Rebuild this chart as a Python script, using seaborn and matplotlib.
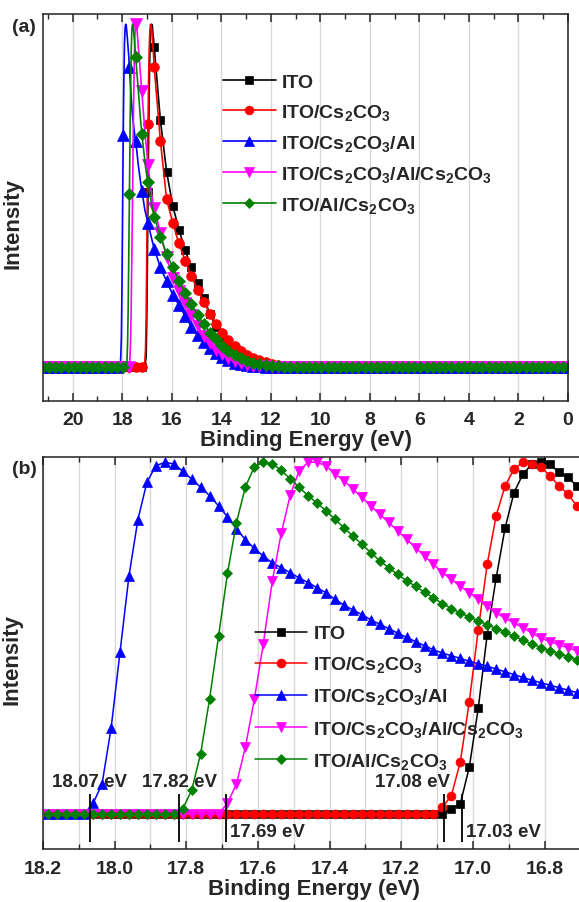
import numpy as np
import matplotlib
matplotlib.use("Agg")
import matplotlib.pyplot as plt
from matplotlib.ticker import MultipleLocator, FormatStrFormatter
import seaborn as sns

# ---------------------------------------------------------------- data
SAMPLES = [
    "ITO",
    "ITO/Cs$_2$CO$_3$",
    "ITO/Cs$_2$CO$_3$/Al",
    "ITO/Cs$_2$CO$_3$/Al/Cs$_2$CO$_3$",
    "ITO/Al/Cs$_2$CO$_3$",
]

# secondary-electron cut-off region, 0.025 eV steps (18.185 -> 16.71 eV)
EDGE_ENERGY = np.linspace(18.185, 16.71, 60)

ITO_EDGE = [
    0, 0, 0, 0, 0, 0, 0, 0, 0, 0, 0, 0, 0, 0, 0,
    0, 0, 0, 0, 0, 0, 0, 0, 0, 0, 0, 0, 0, 0, 0,
    0, 0, 0, 0, 0, 0, 0, 0, 0, 0, 0, 0, 0, 0, 0,
    0.014, 0.029, 0.133, 0.30, 0.51, 0.671, 0.814, 0.914, 0.967, 0.995,
    1.0, 0.995, 0.971, 0.957, 0.933,
]
ITO_CS_EDGE = [
    0, 0, 0, 0, 0, 0, 0, 0, 0, 0, 0, 0, 0, 0, 0,
    0, 0, 0, 0, 0, 0, 0, 0, 0, 0, 0, 0, 0, 0, 0,
    0, 0, 0, 0, 0, 0, 0, 0, 0, 0, 0, 0, 0, 0,
    0.019, 0.052, 0.148, 0.319, 0.524, 0.71, 0.848, 0.933, 0.981, 1.0,
    0.995, 0.986, 0.962, 0.933, 0.91, 0.876,
]
ITO_CS_AL_EDGE = [
    0, 0, 0, 0, 0,
    0.03, 0.086, 0.243, 0.46, 0.677, 0.837, 0.943, 0.99, 1.0, 0.995,
    0.975, 0.952, 0.929, 0.905, 0.876, 0.845, 0.81, 0.78, 0.755, 0.733,
    0.714, 0.70, 0.686, 0.671, 0.658, 0.643, 0.629, 0.61, 0.594, 0.58,
    0.567, 0.552, 0.539, 0.527, 0.514, 0.502, 0.49, 0.478, 0.467, 0.457,
    0.45, 0.442, 0.434, 0.427, 0.42, 0.412, 0.404, 0.396, 0.388, 0.38,
    0.373, 0.366, 0.359, 0.352, 0.345,
]
ITO_CS_AL_CS_EDGE = [
    0, 0, 0, 0, 0, 0, 0, 0, 0, 0, 0, 0, 0, 0, 0, 0, 0, 0, 0, 0,
    0.03, 0.085, 0.19, 0.326, 0.484, 0.662, 0.798, 0.906, 0.976, 1.0,
    1.0, 0.99, 0.967, 0.948, 0.924, 0.90, 0.876, 0.852, 0.829, 0.805,
    0.781, 0.757, 0.733, 0.71, 0.686, 0.667, 0.648, 0.629, 0.61, 0.59,
    0.571, 0.557, 0.543, 0.529, 0.514, 0.50, 0.49, 0.481, 0.472, 0.464,
]
ITO_AL_CS_EDGE = [
    0, 0, 0, 0, 0, 0, 0, 0, 0, 0, 0, 0, 0, 0, 0,
    0.014, 0.067, 0.171, 0.327, 0.505, 0.684, 0.828, 0.93, 0.987, 1.0,
    0.996, 0.977, 0.953, 0.929, 0.905, 0.884, 0.862, 0.838, 0.814, 0.79,
    0.767, 0.743, 0.72, 0.70, 0.681, 0.663, 0.647, 0.63, 0.614, 0.598,
    0.584, 0.571, 0.56, 0.549, 0.538, 0.527, 0.516, 0.505, 0.494, 0.483,
    0.473, 0.464, 0.456, 0.447, 0.438,
]

# survey scan outside the cut-off window, 0.25 eV steps
SURVEY_HIGH_ENERGY = np.linspace(21.21, 18.21, 13)   # flat baseline
SURVEY_TAIL_ENERGY = np.linspace(16.46, 11.21, 22)   # decaying tail
SURVEY_LOW_ENERGY = np.linspace(10.96, -0.04, 45)    # flat baseline

ITO_TAIL = [0.72, 0.57, 0.47, 0.40, 0.34, 0.29, 0.245, 0.20, 0.155, 0.115, 0.085,
            0.062, 0.045, 0.032, 0.022, 0.015, 0.010, 0.006, 0.004, 0.002, 0.001, 0.0]
ITO_CS_TAIL = [0.66, 0.49, 0.42, 0.36, 0.31, 0.265, 0.225, 0.19, 0.155, 0.125, 0.10,
               0.078, 0.06, 0.045, 0.034, 0.026, 0.019, 0.013, 0.008, 0.005, 0.003, 0.001]
ITO_CS_AL_TAIL = [0.29, 0.25, 0.21, 0.18, 0.148, 0.117, 0.092, 0.072, 0.055, 0.04, 0.028,
                  0.019, 0.012, 0.007, 0.004, 0.002, 0.001, 0.0, 0.0, 0.0, 0.0, 0.0]
ITO_CS_AL_CS_TAIL = [0.39, 0.32, 0.26, 0.22, 0.185, 0.15, 0.118, 0.09, 0.068, 0.05, 0.036,
                     0.025, 0.016, 0.01, 0.006, 0.003, 0.002, 0.001, 0.0, 0.0, 0.0, 0.0]
ITO_AL_CS_TAIL = [0.38, 0.33, 0.29, 0.25, 0.215, 0.182, 0.152, 0.125, 0.10, 0.08, 0.062,
                  0.047, 0.035, 0.025, 0.017, 0.011, 0.007, 0.004, 0.002, 0.001, 0.0, 0.0]

EDGES = [ITO_EDGE, ITO_CS_EDGE, ITO_CS_AL_EDGE, ITO_CS_AL_CS_EDGE, ITO_AL_CS_EDGE]
TAILS = [ITO_TAIL, ITO_CS_TAIL, ITO_CS_AL_TAIL, ITO_CS_AL_CS_TAIL, ITO_AL_CS_TAIL]

# cut-off onsets (eV)
ONSETS = [18.07, 17.82, 17.69, 17.08, 17.03]

# ---------------------------------------------------------------- style
COLORS = ["#000000", "#ff0000", "#0000ff", "#ff00ff", "#008000"]
MARKERS = ["s", "o", "^", "v", "D"]
SIZES_A = [6.0, 7.0, 8.0, 8.0, 6.2]
SIZES_B = [5.4, 6.4, 7.2, 7.2, 5.2]
# label placement next to each onset line: (horizontal alignment, row)
ONSET_LABEL_POS = [("center", "up"), ("center", "up"), ("left", "down"),
                   ("right", "up"), ("left", "down")]

sns.set_style("white")
plt.rcParams["font.family"] = ["Liberation Sans", "DejaVu Sans"]
plt.rcParams["font.weight"] = "bold"
plt.rcParams["mathtext.fontset"] = "custom"
plt.rcParams["mathtext.rm"] = "Liberation Sans:bold"
plt.rcParams["mathtext.bf"] = "Liberation Sans:bold"
plt.rcParams["mathtext.it"] = "Liberation Sans:bold"
plt.rcParams["mathtext.default"] = "rm"
plt.rcParams["axes.linewidth"] = 1.1
plt.rcParams["axes.edgecolor"] = "#222222"

fig = plt.figure(figsize=(5.79, 9.03), dpi=100)
ax_a = fig.add_axes([43 / 579, 1 - 402 / 903, 525 / 579, 387 / 903])
ax_b = fig.add_axes([43 / 579, 1 - 850 / 903, 542 / 579, 392 / 903])

n_high = len(SURVEY_HIGH_ENERGY)
n_edge = len(EDGE_ENERGY)
survey_energy = np.concatenate([SURVEY_HIGH_ENERGY, EDGE_ENERGY,
                                SURVEY_TAIL_ENERGY, SURVEY_LOW_ENERGY])
survey_marks = (list(range(n_high))
                + [n_high + i for i in range(9, n_edge, 10)]
                + list(range(n_high + n_edge, len(survey_energy))))

# ---------------------------------------------------------------- (a) survey
for name, edge, tail, col, mk, ms in zip(SAMPLES, EDGES, TAILS, COLORS, MARKERS, SIZES_A):
    inten = np.concatenate([np.zeros(n_high), edge, tail,
                            np.zeros(len(SURVEY_LOW_ENERGY))])
    sns.lineplot(x=survey_energy, y=inten, ax=ax_a, sort=False, estimator=None,
                 color=col, lw=1.2, marker=mk, markersize=ms,
                 markeredgecolor=col, markeredgewidth=0.5, markevery=survey_marks,
                 label=name, legend=False)

ax_a.set_xlim(21.2, 0)
ax_a.set_ylim(-0.1, 1.03)
ax_a.xaxis.set_major_locator(MultipleLocator(2))
ax_a.xaxis.set_minor_locator(MultipleLocator(1))
ax_a.grid(True, axis="x", which="major", color="#d8d8d8", lw=1.0)
ax_a.legend(loc="upper left", bbox_to_anchor=(0.343, 0.847), frameon=False,
            fontsize=14, handlelength=2.7, handletextpad=0.3, labelspacing=0.57,
            borderpad=0, borderaxespad=0, numpoints=1, markerscale=0.9)

# ---------------------------------------------------------------- (b) cut-off
for name, edge, col, mk, ms in zip(SAMPLES, EDGES, COLORS, MARKERS, SIZES_B):
    sns.lineplot(x=EDGE_ENERGY, y=edge, ax=ax_b, sort=False, estimator=None,
                 color=col, lw=1.1, marker=mk, markersize=ms,
                 markeredgecolor=col, markeredgewidth=0.5,
                 label=name, legend=False)

ax_b.vlines(ONSETS, -0.08, 0.057, color="black", lw=1.3, zorder=5)
for e, (ha, row) in zip(ONSETS, ONSET_LABEL_POS):
    dx = {"center": 0, "left": 3, "right": 4}[ha]
    yv = 0.091 if row == "up" else -0.051
    ax_b.annotate(f"{e:.2f} eV", xy=(e, yv), xytext=(dx, 0),
                  textcoords="offset points", ha=ha, va="center",
                  fontsize=13.5, fontweight="bold")

ax_b.set_xlim(18.2, 16.687)
ax_b.set_ylim(-0.1, 1.015)
ax_b.xaxis.set_major_locator(MultipleLocator(0.2))
ax_b.xaxis.set_minor_locator(MultipleLocator(0.1))
ax_b.xaxis.set_major_formatter(FormatStrFormatter("%.1f"))
ax_b.grid(True, axis="x", which="both", color="#d8d8d8", lw=1.0)
ax_b.legend(loc="upper left", bbox_to_anchor=(0.391, 0.572), frameon=False,
            fontsize=14, handlelength=2.7, handletextpad=0.3, labelspacing=0.62,
            borderpad=0, borderaxespad=0, numpoints=1)

# ---------------------------------------------------------------- common axes styling
for ax, ycen, pad, lpad in ((ax_a, 0.4625, 7, 1), (ax_b, 0.485, 8, 0.5)):
    ax.set_axisbelow(True)
    ax.set_yticks([])
    ax.tick_params(axis="x", which="major", direction="in", length=6, width=1.1,
                   top=True, bottom=True, labelsize=14, pad=pad)
    ax.tick_params(axis="x", which="minor", direction="in", length=3.5, width=1.0,
                   top=True, bottom=True)
    for lab in ax.get_xticklabels():
        lab.set_fontweight("bold")
    ax.set_xlabel("Binding Energy (eV)", fontsize=16, fontweight="bold", labelpad=lpad)
    ax.set_ylabel("Intensity", fontsize=16, fontweight="bold")
    ax.yaxis.set_label_coords(-0.038, ycen)

fig.text(12 / 579, 1 - 27 / 903, "(a)", fontsize=14, fontweight="bold",
         ha="left", va="center")
fig.text(12 / 579, 1 - 470 / 903, "(b)", fontsize=14, fontweight="bold",
         ha="left", va="center")

fig.savefig("out.png", dpi=100)
